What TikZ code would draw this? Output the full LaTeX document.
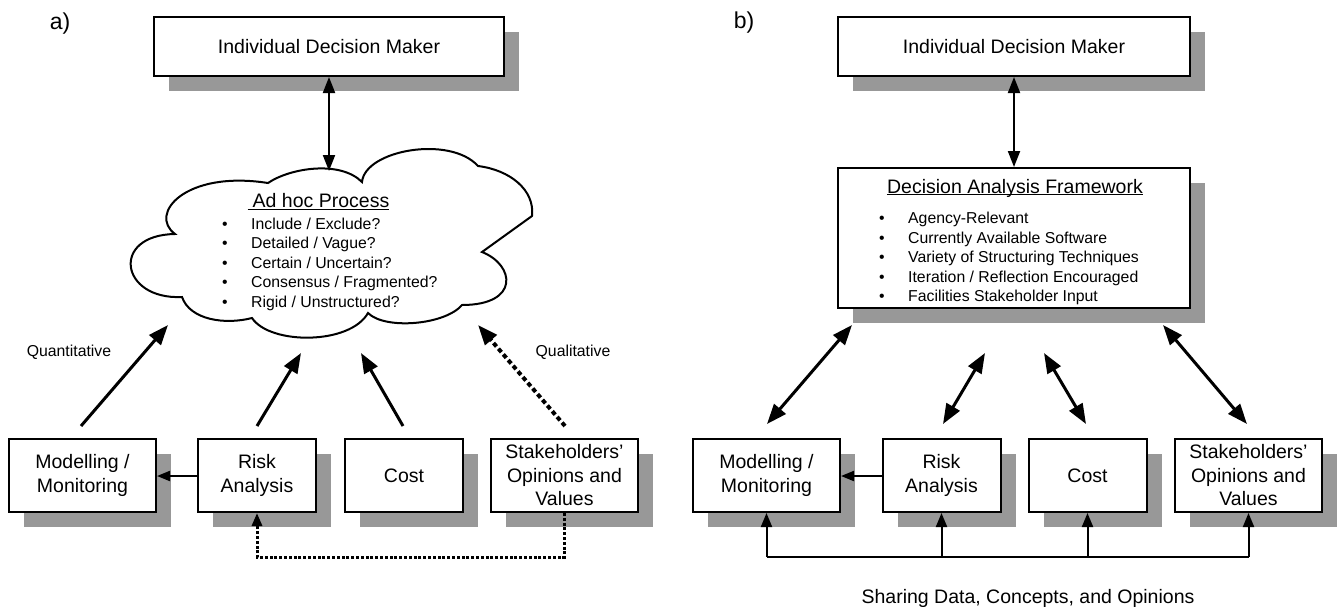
\documentclass[tikz,border=0pt]{standalone}
\usepackage{fontspec}
\setmainfont{Liberation Sans}
\usetikzlibrary{arrows.meta,shadows,calc}
\definecolor{shadowgray}{RGB}{152,152,152}
\newcommand\mybig{\fontsize{19.5}{23.5}\selectfont}
\newcommand\mysmall{\fontsize{15.8}{19.5}\selectfont}
\newcommand\mylbl{\fontsize{23}{26}\selectfont}
\tikzset{
  box/.style={draw=black, line width=2pt, fill=white, inner sep=0pt, align=center, font=\mybig,
    drop shadow={shadow xshift=15pt, shadow yshift=-15pt, fill=shadowgray, opacity=1}},
  widebox/.style={box, minimum width=147pt, minimum height=73pt},
  narrowbox/.style={box, minimum width=118pt, minimum height=73pt},
  cloudline/.style={draw=black, line width=2pt, fill=white},
  txt/.style={inner sep=0pt, font=\mybig},
  itm/.style={inner sep=0pt, font=\mysmall, anchor=base west},
  bul/.style={inner sep=0pt, font=\mysmall, anchor=base},
  lbl/.style={inner sep=0pt, font=\mylbl},
  side/.style={inner sep=0pt, font=\mysmall},
  dblv/.style={line width=2pt, {Triangle[length=16pt,width=12pt]}-{Triangle[length=16pt,width=12pt]}},
  uparr/.style={line width=3pt, -{Triangle[length=20pt,width=15pt]}},
  dasharr/.style={line width=4pt, dash pattern=on 4.5pt off 3pt, -{Triangle[length=20pt,width=15pt]}},
  dblarr/.style={line width=3pt, {Triangle[length=20pt,width=15pt]}-{Triangle[length=20pt,width=15pt]}},
  smallarr/.style={line width=2pt, -{Triangle[length=13pt,width=10pt]}},
  dotline/.style={line width=3pt, dash pattern=on 3pt off 1.8pt},
  busline/.style={line width=2pt},
  busarr/.style={line width=2pt, -{Triangle[length=14pt,width=11pt]}},
  uline/.style={line width=1.3pt}
}
\begin{document}
\begin{tikzpicture}[x=1pt,y=-1pt]
\useasboundingbox (0,0) rectangle (1339,606);

% ================= panel a =================
\node[lbl] (la) at (60,24) {a)};
\node[box, minimum width=350pt, minimum height=59pt] (topA) at (329,46.5) {Individual Decision Maker};

% cloud
\draw[cloudline] (175,234) .. controls (148,214) and (185,170) .. (268,183)
 .. controls (290,168) and (340,160) .. (362,182)
 .. controls (365,150) and (450,135) .. (478,166)
 .. controls (510,170) and (535,190) .. (532,216)
 -- (482,252)
 .. controls (515,265) and (520,305) .. (462,305)
 .. controls (445,325) and (385,330) .. (368,313)
 .. controls (350,345) and (270,345) .. (252,318)
 .. controls (225,325) and (190,320) .. (182,297)
 .. controls (120,300) and (110,235) .. cycle;
\coordinate (cloudtop) at (329,171);

\node[txt, anchor=base] (adhoc) at (321,207) {Ad hoc Process};
\draw[uline] ($(adhoc.base west)+(-5,2.2)$) -- ($(adhoc.base east)+(0,2.2)$);
\foreach \t [count=\i] in {Include / Exclude?, Detailed / Vague?, Certain / Uncertain?, Consensus / Fragmented?, Rigid / Unstructured?}{
  \node[bul] (ab\i) at (225,{229+19.5*(\i-1)}) {\textbullet};
  \node[itm] (ai\i) at (251,{229+19.5*(\i-1)}) {\t};
}

\node[widebox] (modA) at (82.5,475.5) {Modelling /\\Monitoring};
\node[narrowbox] (riskA) at (257,475.5) {Risk\\Analysis};
\node[narrowbox] (costA) at (404,475.5) {Cost};
\node[widebox] (stakeA) at (564.5,475.5) {Stakeholders’\\Opinions and\\Values};

\node[side] (quant) at (69,352) {Quantitative};
\node[side] (qual) at (573,352) {Qualitative};

\coordinate (qs) at (81,426);   \coordinate (qe) at (168,325);
\coordinate (rs) at (257,426);  \coordinate (re) at (301,353);
\coordinate (cs) at (403,426);  \coordinate (ce) at (361,353);
\coordinate (ss) at (565,426);  \coordinate (se) at (478,325);

\draw[dblv] (topA.south) -- (cloudtop);
\draw[uparr] (qs) -- (qe);
\draw[uparr] (rs) -- (re);
\draw[uparr] (cs) -- (ce);
\draw[dasharr] (ss) -- (se);
\draw[smallarr] (riskA.west |- 0,476) -- (modA.east |- 0,476);
\coordinate (dotR) at ($(stakeA.south)+(0,44)$);
\draw[dotline, -{Triangle[length=13pt,width=10pt]}] (stakeA.south) -- (dotR) -| (riskA.south);

% ================= panel b =================
\node[lbl] (lb) at (744,23) {b)};
\node[box, minimum width=352pt, minimum height=59pt] (topB) at (1014,46.5) {Individual Decision Maker};
\node[box, minimum width=352pt, minimum height=140pt] (daf) at (1014,238) {};
\node[txt, anchor=base] (daft) at (1015,193) {Decision Analysis Framework};
\draw[uline] ($(daft.base west)+(0,1.6)$) -- ($(daft.base east)+(0,1.6)$);
\foreach \t [count=\i] in {Agency-Relevant, Currently Available Software, Variety of Structuring Techniques, Iteration / Reflection Encouraged, Facilities Stakeholder Input}{
  \node[bul] (bb\i) at (882,{223.5+19.6*(\i-1)}) {\textbullet};
  \node[itm] (bi\i) at (908,{223.5+19.6*(\i-1)}) {\t};
}

\node[widebox] (modB) at (766.5,475.5) {Modelling /\\Monitoring};
\node[narrowbox] (riskB) at (941.5,475.5) {Risk\\Analysis};
\node[narrowbox] (costB) at (1087.5,475.5) {Cost};
\node[widebox] (stakeB) at (1248.5,475.5) {Stakeholders’\\Opinions and\\Values};

\draw[dblv] (topB.south) -- (daf.north);

\coordinate (bms) at (767,424);  \coordinate (bme) at (852,325);
\coordinate (brs) at (943,424);  \coordinate (bre) at (985,353);
\coordinate (bcs) at (1086,424); \coordinate (bce) at (1044,353);
\coordinate (bss) at (1247,424); \coordinate (bse) at (1163,325);
\draw[dblarr] (bms) -- (bme);
\draw[dblarr] (brs) -- (bre);
\draw[dblarr] (bcs) -- (bce);
\draw[dblarr] (bss) -- (bse);

\draw[smallarr] (riskB.west |- 0,476) -- (modB.east |- 0,476);

\coordinate (busL) at ($(modB.south)+(0,44)$);
\coordinate (busR) at ($(stakeB.south)+(0,44)$);
\draw[busline] (busL) -- (busR);
\draw[busarr] (busL) -- (modB.south);
\draw[busarr] (riskB.south |- busL) -- (riskB.south);
\draw[busarr] (costB.south |- busL) -- (costB.south);
\draw[busarr] (busR) -- (stakeB.south);

\node[txt, anchor=base] (share) at (1028,603) {Sharing Data, Concepts, and Opinions};
\end{tikzpicture}
\end{document}
